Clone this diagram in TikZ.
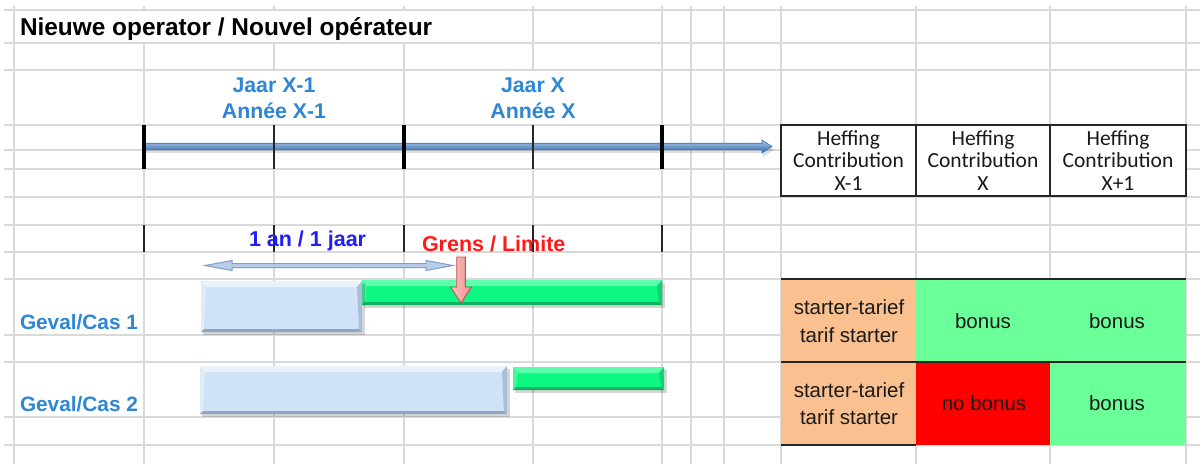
\documentclass[tikz,border=0pt]{standalone}
\usepackage{fontspec}
\setmainfont{Liberation Sans}
\newfontfamily\calib{Carlito}
\usetikzlibrary{calc}
\definecolor{gridc}{HTML}{D9D9D9}
\definecolor{yearblue}{HTML}{2E86D4}
\definecolor{anblue}{HTML}{1E1EF5}
\definecolor{grensred}{HTML}{FF1A1A}
\definecolor{peach}{HTML}{FAC090}
\definecolor{mint}{HTML}{6BFF99}
\definecolor{nobonus}{HTML}{FF0000}
\definecolor{tlTop}{HTML}{A9C8EF}
\definecolor{tlMid}{HTML}{5A8FD3}
\definecolor{tlBot}{HTML}{3366A8}
\definecolor{tlEdge}{HTML}{3F6EAA}
\definecolor{barB}{HTML}{CFE2F8}
\definecolor{barBl}{HTML}{EAF2FC}
\definecolor{barBd}{HTML}{8FA6C6}
\definecolor{barBs}{HTML}{A9BEDB}
\definecolor{barG}{HTML}{0CF882}
\definecolor{barGl}{HTML}{5CFDAB}
\definecolor{barGd}{HTML}{12B266}
\definecolor{barGs}{HTML}{10D472}
\definecolor{dblFill}{HTML}{B9CDE8}
\definecolor{dblEdge}{HTML}{7F9DC9}
\definecolor{redFillA}{HTML}{F9C2C2}
\definecolor{redFillB}{HTML}{F28F8F}
\definecolor{redEdge}{HTML}{C0504D}
\definecolor{txt}{HTML}{1A1A1A}
% x1 y1 x2 y2 base light dark side
\newcommand\bevbar[8]{%
  \fill[black,opacity=0.16] (#1+2,#2+3) rectangle (#3+3,#4+3);
  \fill[#5] (#1,#2) rectangle (#3,#4);
  \fill[#6] (#1,#2) -- (#3,#2) -- (#3-5,#2+6) -- (#1+5,#2+6) -- cycle;
  \fill[#6!60!#5] (#1,#2) -- (#1+5,#2+6) -- (#1+3,#4-3) -- (#1,#4) -- cycle;
  \fill[#8] (#3,#2) -- (#3,#4) -- (#3-3,#4-3) -- (#3-5,#2+6) -- cycle;
  \fill[#7] (#1,#4) -- (#1+3,#4-3) -- (#3-3,#4-3) -- (#3,#4) -- cycle;
}
\tikzset{
  gridline/.style={draw=gridc,line width=1.3},
  lbl/.style={inner sep=0,outer sep=0,anchor=base},
  titlefont/.style={font=\fontsize{24.4}{28}\selectfont\bfseries},
  yearlbl/.style={lbl,text=yearblue,font=\fontsize{21.3}{25}\selectfont\bfseries},
  caselbl/.style={lbl,anchor=base west,text=yearblue,font=\fontsize{20.8}{25}\selectfont\bfseries},
  headlbl/.style={lbl,text=txt,font=\calib\fontsize{21.5}{25}\selectfont},
  celllbl/.style={lbl,text=txt,font=\fontsize{20.5}{25}\selectfont},
  thicktick/.style={draw=black,line width=4},
  thintick/.style={draw=black!85,line width=1.5},
  tableline/.style={draw=black!85,line width=1.4},
}
\begin{document}
\begin{tikzpicture}[x=1pt,y=-1pt]
\useasboundingbox (0,0) rectangle (1200,464);
\fill[white] (0,0) rectangle (1200,464);
% ---------------- grid ----------------
\foreach \x in {14,662,691,724,781,916,1050,1186}
  \draw[gridline] (\x,6) -- (\x,464);
\foreach \x in {144,404}{
  \draw[gridline] (\x,6) -- (\x,10);
  \draw[gridline] (\x,43) -- (\x,464);}
\draw[gridline] (274,6) -- (274,10);
\draw[gridline] (274,43) -- (274,70);
\draw[gridline] (274,125) -- (274,464);
\draw[gridline] (533,6) -- (533,70);
\draw[gridline] (533,125) -- (533,464);
\foreach \y in {10,43,70,125,150,169,197,225,252,279,335,362,417,445}
  \draw[gridline] (4,\y) -- (1200,\y);
% ---------------- title ----------------
\node[lbl,anchor=base west,titlefont] (title) at (20,35) {Nieuwe operator / Nouvel opérateur};
% ---------------- years ----------------
\node[yearlbl] (jaar1) at (274,92) {Jaar X-1};
\node[yearlbl] (annee1) at (274,118) {Année X-1};
\node[yearlbl] (jaar2) at (533,92) {Jaar X};
\node[yearlbl] (annee2) at (533,118) {Année X};
% ---------------- timeline arrow ----------------
\coordinate (tlA) at (144,146.5);
\coordinate (tlB) at (772,146.5);
\fill[black,opacity=0.13] (146,146) -- (763,146) -- (763,143) -- (774,150) -- (763,157) -- (763,153) -- (146,153) -- cycle;
\shadedraw[top color=tlTop,middle color=tlMid,bottom color=tlBot,draw=tlEdge,line width=0.6]
  ($(tlA)+(0,-3.3)$) -- (762,143.2) -- (762,140) -- (tlB) -- (762,153) -- (762,149.8) -- ($(tlA)+(0,3.3)$) -- cycle;
\foreach \x in {144,404,662} \draw[thicktick] (\x,125) -- (\x,169);
\foreach \x in {274,533} \draw[thintick] (\x,125) -- (\x,169);
\foreach \x in {144,274,404,533,662} \draw[thintick] (\x,225) -- (\x,252);
% ---------------- header table ----------------
\fill[white] (781,125) rectangle (1186,196);
\draw[tableline] (781,125) rectangle (1186,196);
\draw[tableline] (916,125) -- (916,196);
\draw[tableline] (1050,125) -- (1050,196);
\node[headlbl] (h1a) at (848.5,145) {Heffing};
\node[headlbl] (h1b) at (848.5,167.5) {Contribution};
\node[headlbl] (h1c) at (848.5,190) {X-1};
\node[headlbl] (h2a) at (983,145) {Heffing};
\node[headlbl] (h2b) at (983,167.5) {Contribution};
\node[headlbl] (h2c) at (983,190) {X};
\node[headlbl] (h3a) at (1118,145) {Heffing};
\node[headlbl] (h3b) at (1118,167.5) {Contribution};
\node[headlbl] (h3c) at (1118,190) {X+1};
% ---------------- labels ----------------
\node[lbl,anchor=base west,text=anblue,font=\fontsize{21.5}{25}\selectfont\bfseries] (anjaar) at (249,246) {1 an / 1 jaar};
\node[lbl,anchor=base west,text=grensred,font=\fontsize{21.5}{25}\selectfont\bfseries] (grens) at (422,251) {Grens / Limite};
\node[caselbl] (cas1) at (20,329) {Geval/Cas 1};
\node[caselbl] (cas2) at (20,411) {Geval/Cas 2};
% ---------------- bars ----------------
\bevbar{362}{280}{662}{305}{barG}{barGl}{barGd}{barGs}
\bevbar{201}{281}{362}{332}{barB}{barBl}{barBd}{barBs}
\bevbar{513}{367}{664}{390}{barG}{barGl}{barGd}{barGs}
\bevbar{200}{366}{507}{414}{barB}{barBl}{barBd}{barBs}
% ---------------- double arrow ----------------
\coordinate (dA) at (205,265.5);
\coordinate (dB) at (453,265.5);
\filldraw[fill=dblFill,draw=dblEdge,line width=1]
  (dA) -- (232,260.5) -- (232,263.5) -- (426,263.5) -- (426,260.5) -- (dB)
  -- (426,270.5) -- (426,267.5) -- (232,267.5) -- (232,270.5) -- cycle;
% ---------------- red limit arrow ----------------
\coordinate (rA) at (461,257);
\coordinate (rB) at (461,303);
\shadedraw[left color=redFillA,right color=redFillB,draw=redEdge,line width=0.9]
  (456.7,257) -- (465.3,257) -- (465.3,287) -- (471.5,287) -- (rB) -- (450.5,287) -- (456.7,287) -- cycle;
% ---------------- result table ----------------
\fill[peach] (781,279) rectangle (916,445);
\fill[mint] (916,279) rectangle (1186,362);
\fill[nobonus] (916,362) rectangle (1050,445);
\fill[mint] (1050,362) rectangle (1186,445);
\draw[tableline] (781,279) -- (1186,279);
\draw[tableline] (781,362) -- (1186,362);
\draw[tableline] (781,445) -- (916,445);
\node[celllbl] (s1a) at (849,314.5) {starter-tarief};
\node[celllbl] (s1b) at (849,342) {tarif starter};
\node[celllbl] (b1a) at (983,328) {bonus};
\node[celllbl] (b1b) at (1117,328) {bonus};
\node[celllbl] (s2a) at (849,397.5) {starter-tarief};
\node[celllbl] (s2b) at (849,424.5) {tarif starter};
\node[celllbl] (b2a) at (984,410) {no bonus};
\node[celllbl] (b2b) at (1117,410) {bonus};
\end{tikzpicture}
\end{document}
